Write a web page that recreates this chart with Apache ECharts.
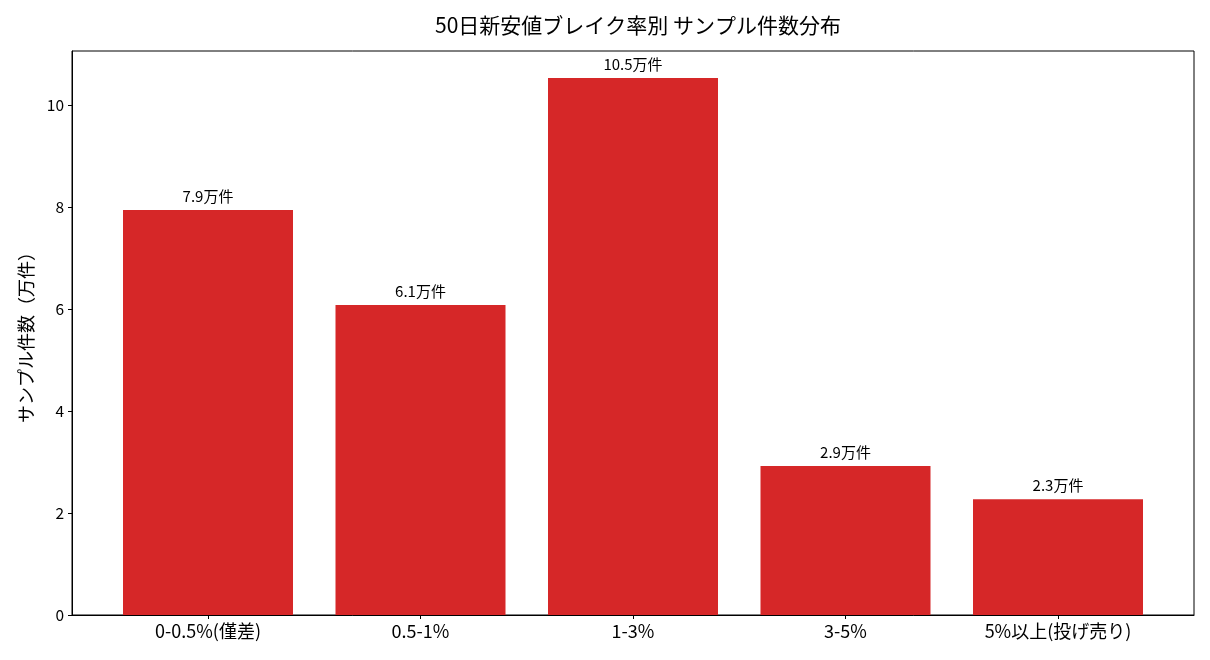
<!DOCTYPE html>
<html>
<head>
<meta charset="utf-8" />
<title>50日新安値ブレイク率別 サンプル件数分布</title>
<script src="https://cdn.jsdelivr.net/npm/echarts@6/dist/echarts.min.js"></script>
</head>
<body style="margin:0">
<div id="main" style="width:1210px;height:660px;"></div>
<script>
var categories = ['0-0.5%(僅差)', '0.5-1%', '1-3%', '3-5%', '5%以上(投げ売り)'];
var counts = [7.94, 6.08, 10.53, 2.92, 2.27]; // 万件
var yTicks = [0, 2, 4, 6, 8, 10];

var font = 'Noto Sans CJK JP, sans-serif';
var chart = echarts.init(document.getElementById('main'));

var barData = counts.map(function (v, i) { return [i, v]; });

chart.setOption({
  animation: false,
  title: {
    text: '50日新安値ブレイク率別 サンプル件数分布',
    left: 633, top: 10, textAlign: 'center',
    textStyle: { fontFamily: font, fontSize: 21, fontWeight: 'normal', color: '#000' }
  },
  grid: { left: 72, right: 16, top: 51, bottom: 45, show: true, borderColor: '#000', borderWidth: 1 },
  xAxis: {
    type: 'value', min: -0.64, max: 4.64,
    splitLine: { show: false },
    axisLine: { onZero: false, lineStyle: { color: '#000' } },
    axisTick: { customValues: [0, 1, 2, 3, 4], length: 4, lineStyle: { color: '#000' } },
    axisLabel: {
      customValues: [0, 1, 2, 3, 4], margin: 7,
      fontFamily: font, fontSize: 18, color: '#000',
      formatter: function (v) { return categories[Math.round(v)]; }
    }
  },
  yAxis: {
    type: 'value', min: 0, max: 11.06,
    name: 'サンプル件数（万件）', nameLocation: 'middle', nameGap: 37, nameRotate: 90,
    nameTextStyle: { fontFamily: font, fontSize: 18, color: '#000' },
    splitLine: { show: false },
    axisLine: { show: true, onZero: false, lineStyle: { color: '#000' } },
    axisTick: { show: true, customValues: yTicks, length: 4, lineStyle: { color: '#000' } },
    axisLabel: { customValues: yTicks, margin: 8, fontFamily: font, fontSize: 15.5, color: '#000' }
  },
  series: [{
    type: 'bar',
    data: barData,
    barWidth: 170,
    itemStyle: { color: '#d62728' },
    label: {
      show: true, position: 'top', distance: 6,
      fontFamily: font, fontSize: 15, color: '#000',
      formatter: function (p) { return p.value[1].toFixed(1) + '万件'; }
    }
  }]
});
</script>
</body>
</html>
